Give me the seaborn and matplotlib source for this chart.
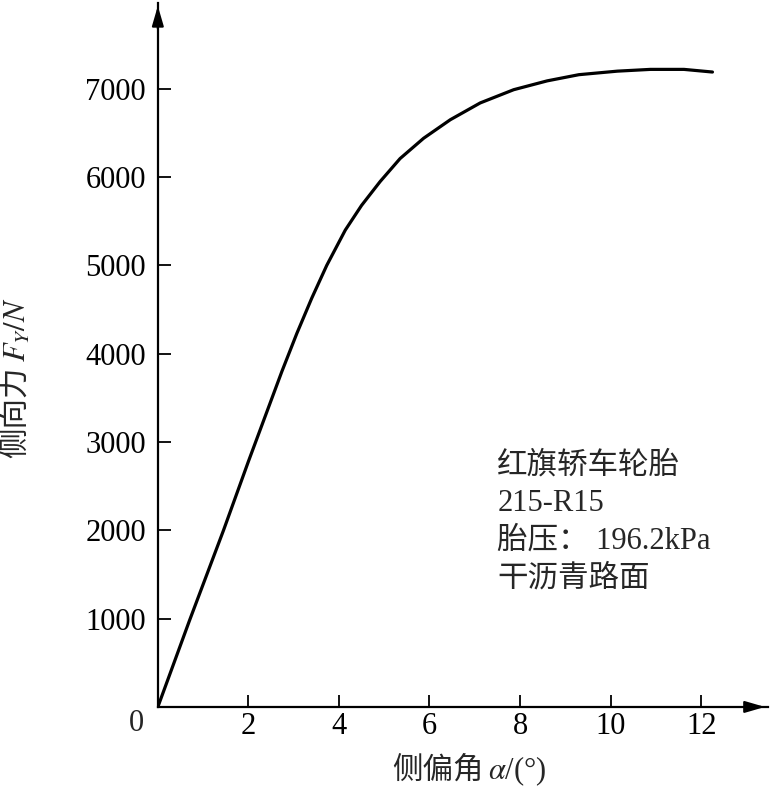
import numpy as np
import pandas as pd
import matplotlib
matplotlib.use('Agg')
import matplotlib.pyplot as plt
import seaborn as sns

# 侧偏角 (deg) vs 侧向力 (N)
alpha_deg = [0.0, 0.70, 1.45, 2.00, 2.37, 2.74, 3.07, 3.40, 3.73, 4.14, 4.50, 4.91,
             5.35, 5.87, 6.46, 7.12, 7.86, 8.60, 9.30, 10.15, 10.88, 11.62, 12.25]
fy_n = [0, 980, 2000, 2780, 3290, 3800, 4230, 4630, 5000, 5400, 5680, 5950,
        6210, 6440, 6650, 6840, 6990, 7090, 7160, 7200, 7220, 7220, 7190]

xticks = [2, 4, 6, 8, 10, 12]
yticks = [1000, 2000, 3000, 4000, 5000, 6000, 7000]
note_lines = ['红旗轿车轮胎', '215-R15', '胎压： 196.2kPa', '干沥青路面']

df = pd.DataFrame({'alpha': alpha_deg, 'fy': fy_n})

sns.set_style('ticks')
plt.rcParams['font.family'] = ['Liberation Serif', 'Noto Sans CJK SC']
plt.rcParams['mathtext.fontset'] = 'stix'

fig = plt.figure(figsize=(7.7, 7.89), dpi=100)
ax = fig.add_axes([0.205, 0.104, 0.792, 0.892])

sns.lineplot(data=df, x='alpha', y='fy', color='black', linewidth=2.3, ax=ax)

ax.set_xlim(0, 13.47)
ax.set_ylim(0, 7970)
ax.set_xticks(xticks)
ax.set_yticks(yticks)
ax.tick_params(direction='in', length=9, width=1.3, labelsize=22, colors='black')
ax.tick_params(axis='y', pad=8.5)
ax.tick_params(axis='x', pad=4)
ax.set_xlabel('')
ax.set_ylabel('')

for s in ['top', 'right']:
    ax.spines[s].set_visible(False)
for s in ['left', 'bottom']:
    ax.spines[s].set_linewidth(1.6)
    ax.spines[s].set_color('black')

# arrow heads at the ends of the axes
ax.annotate('', xy=(1, 0), xytext=(0.96, 0), xycoords='axes fraction',
            arrowprops=dict(arrowstyle='-|>,head_length=1.2,head_width=0.35',
                            color='black', lw=1.6), annotation_clip=False)
ax.annotate('', xy=(0, 1), xytext=(0, 0.96), xycoords='axes fraction',
            arrowprops=dict(arrowstyle='-|>,head_length=1.2,head_width=0.35',
                            color='black', lw=1.6), annotation_clip=False)

ax.text(-0.48, -190, '0', fontsize=22, ha='center', va='center')

# axis titles, split so CJK and math parts each get a proper font
fig.text(484 / 770, 1 - 771 / 789, '侧偏角', fontsize=22, ha='right', va='center')
fig.text(488 / 770, 1 - 771 / 789, r'$\alpha$/(°)', fontsize=22, ha='left', va='center')
fig.text(17 / 770, 1 - 366 / 789, '侧向力', fontsize=22, rotation=90,
         ha='center', va='top')
fig.text(18 / 770, 1 - 362 / 789, r'$F_Y/N$', fontsize=22, rotation=90,
         ha='center', va='bottom')

for i, line in enumerate(note_lines):
    ax.text(7.5, 2730 - i * 427, line, fontsize=22, ha='left', va='center')

plt.savefig('out.png', dpi=100)
